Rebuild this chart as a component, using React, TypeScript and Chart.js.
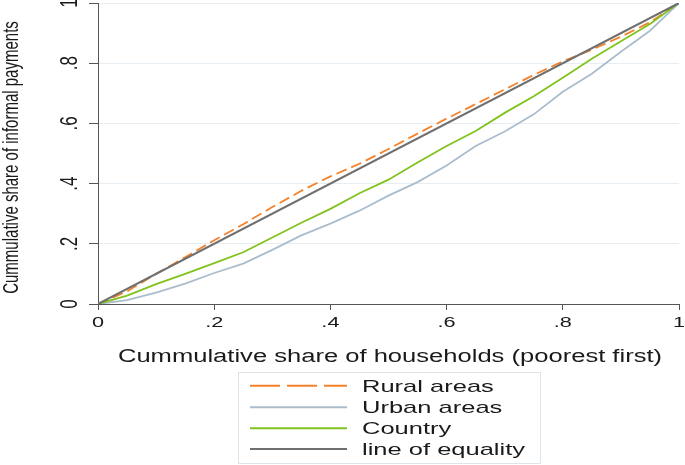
import React, { useEffect, useRef } from "react";
import { Chart, registerables } from "chart.js";

Chart.register(...registerables);

// Cumulative share of households (poorest first)
const householdShare = [0, 0.05, 0.1, 0.15, 0.2, 0.25, 0.3, 0.35, 0.4, 0.45, 0.5, 0.55, 0.6, 0.65, 0.7, 0.75, 0.8, 0.85, 0.9, 0.95, 1];
// Cumulative share of informal payments
const ruralAreas = [0, 0.042, 0.1, 0.155, 0.212, 0.265, 0.322, 0.376, 0.424, 0.466, 0.515, 0.566, 0.616, 0.664, 0.713, 0.761, 0.806, 0.845, 0.888, 0.936, 1];
const urbanAreas = [0, 0.013, 0.038, 0.068, 0.103, 0.134, 0.18, 0.228, 0.267, 0.31, 0.36, 0.405, 0.46, 0.525, 0.573, 0.63, 0.705, 0.765, 0.838, 0.908, 1];
const countryAll = [0, 0.028, 0.066, 0.1, 0.136, 0.172, 0.221, 0.27, 0.316, 0.368, 0.413, 0.47, 0.525, 0.575, 0.635, 0.69, 0.752, 0.815, 0.873, 0.93, 1];
const equalityX = [0, 1];
const equalityY = [0, 1];

const tickValues = [0, 0.2, 0.4, 0.6, 0.8, 1];
const tickLabels = ["0", ".2", ".4", ".6", ".8", "1"];

const seriesNames = ["Rural areas", "Urban areas", "Country", "line of equality"];
const xTitle = "Cummulative share of households (poorest first)";
const yTitle = "Cummulative share of informal payments";

const COLORS = {
  rural: "#f5822a",
  urban: "#abbccc",
  country: "#80c31c",
  equality: "#6f6f6f",
};

const toPoints = (xs: number[], ys: number[]) => xs.map((x, i) => ({ x, y: ys[i] }));

const FONT = "'Liberation Sans', Arial, sans-serif";

function drawText(ctx: CanvasRenderingContext2D, text: string, x: number, y: number, size: number, sx: number, align: CanvasTextAlign, baseline: CanvasTextBaseline, rotate = false) {
  ctx.save();
  ctx.translate(x, y);
  ctx.scale(sx, 1);
  if (rotate) ctx.rotate(-Math.PI / 2);
  ctx.font = `${size}px ${FONT}`;
  ctx.fillStyle = "#1a1a1a";
  ctx.textAlign = align;
  ctx.textBaseline = baseline;
  ctx.fillText(text, 0, 0);
  ctx.restore();
}

const textPlugin = {
  id: "stataText",
  afterDraw(chart: any) {
    const ctx: CanvasRenderingContext2D = chart.ctx;
    const xs = chart.scales.x;
    const ys = chart.scales.y;
    const area = chart.chartArea;
    // y tick labels (rotated)
    tickValues.forEach((v, i) => {
      const py = ys.getPixelForValue(v);
      drawText(ctx, tickLabels[i], 77, py, 17, 1.4, "center", "alphabetic", true);
    });
    // x tick labels
    tickValues.forEach((v, i) => {
      const px = xs.getPixelForValue(v);
      drawText(ctx, tickLabels[i], px, 327, 14, 1.55, "center", "alphabetic");
    });
    // axis titles
    drawText(ctx, xTitle, 390, 362, 18, 1.42, "center", "alphabetic");
    drawText(ctx, yTitle, 18, (area.top + area.bottom) / 2 + 4, 15, 1.5, "center", "alphabetic", true);

    // legend box
    ctx.save();
    ctx.strokeStyle = "#dde5eb";
    ctx.lineWidth = 1;
    ctx.strokeRect(238.5, 372.5, 302, 91);
    const rows = [385.7, 407.3, 428.3, 449];
    const styles = [
      { color: COLORS.rural, dash: [30, 7], width: 2 },
      { color: COLORS.urban, dash: [], width: 2 },
      { color: COLORS.country, dash: [], width: 2 },
      { color: COLORS.equality, dash: [], width: 2 },
    ];
    rows.forEach((ry, i) => {
      const s = styles[i];
      ctx.beginPath();
      ctx.setLineDash(s.dash);
      ctx.strokeStyle = s.color;
      ctx.lineWidth = s.width;
      ctx.moveTo(250, ry);
      ctx.lineTo(347, ry);
      ctx.stroke();
    });
    ctx.setLineDash([]);
    ctx.restore();
    rows.forEach((ry, i) => {
      drawText(ctx, seriesNames[i], 362, ry + 6, 17, 1.5, "left", "alphabetic");
    });
  },
};

export default function App() {
  const canvasRef = useRef<HTMLCanvasElement | null>(null);

  useEffect(() => {
    const canvas = canvasRef.current;
    if (!canvas) return;
    const chart = new Chart(canvas, {
      type: "line",
      data: {
        datasets: [
          {
            label: seriesNames[3],
            data: toPoints(equalityX, equalityY),
            borderColor: COLORS.equality,
            borderWidth: 2,
            pointRadius: 0,
          },
          {
            label: seriesNames[2],
            data: toPoints(householdShare, countryAll),
            borderColor: COLORS.country,
            borderWidth: 1.8,
            pointRadius: 0,
          },
          {
            label: seriesNames[1],
            data: toPoints(householdShare, urbanAreas),
            borderColor: COLORS.urban,
            borderWidth: 1.8,
            pointRadius: 0,
          },
          {
            label: seriesNames[0],
            data: toPoints(householdShare, ruralAreas),
            borderColor: COLORS.rural,
            borderWidth: 1.8,
            borderDash: [11, 5],
            pointRadius: 0,
          },
        ],
      },
      options: {
        responsive: false,
        animation: false,
        events: [],
        layout: { padding: { top: 3, right: 6, left: 0, bottom: 0 } },
        plugins: {
          legend: { display: false },
          tooltip: { enabled: false },
          title: { display: false },
        },
        scales: {
          x: {
            type: "linear",
            min: 0,
            max: 1,
            afterBuildTicks: (scale: any) => {
              scale.ticks = tickValues.map((v) => ({ value: v }));
            },
            afterFit: (scale: any) => {
              scale.height = 161;
            },
            ticks: { display: false },
            grid: {
              drawOnChartArea: false,
              drawTicks: true,
              tickLength: 6,
              tickColor: "#555555",
              color: "#555555",
            },
            border: { display: true, color: "#555555", width: 1 },
          },
          y: {
            type: "linear",
            min: 0,
            max: 1,
            afterBuildTicks: (scale: any) => {
              scale.ticks = tickValues.map((v) => ({ value: v }));
            },
            afterFit: (scale: any) => {
              scale.width = 98;
            },
            ticks: { display: false },
            grid: {
              drawOnChartArea: true,
              drawTicks: true,
              tickLength: 9,
              color: "#e6eef4",
              tickColor: "#555555",
            },
            border: { display: true, color: "#555555", width: 1 },
          },
        },
      },
      plugins: [textPlugin],
    });
    return () => chart.destroy();
  }, []);

  return (
    <div style={{ position: "fixed", left: 0, top: 0, width: 685, height: 465, background: "#ffffff" }}>
      <canvas ref={canvasRef} width={685} height={465} style={{ width: 685, height: 465 }} />
    </div>
  );
}
